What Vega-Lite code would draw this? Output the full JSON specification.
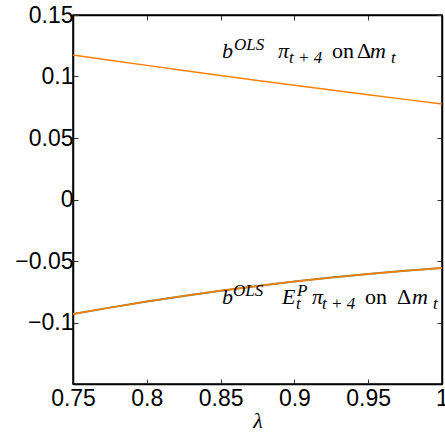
{
  "$schema": "https://vega.github.io/schema/vega-lite/v6.json",
  "width": 369,
  "height": 369,
  "autosize": "none",
  "padding": {"left": 73, "top": 15, "right": 3, "bottom": 50},
  "background": "white",
  "config": {
    "view": {"stroke": "black", "strokeWidth": 1.5},
    "axis": {
      "grid": false,
      "domainColor": "black",
      "domainWidth": 1.5,
      "tickColor": "#333",
      "tickWidth": 1,
      "tickSize": -5,
      "labelFlush": false,
      "labelOverlap": false,
      "labelColor": "black",
      "labelFont": "Liberation Sans",
      "labelFontSize": 23,
      "titleColor": "black"
    }
  },
  "datasets": {
    "curves": [
      {"lambda": 0.75, "upper": 0.1175, "lower": -0.0931},
      {"lambda": 0.775, "upper": 0.1132, "lower": -0.0879},
      {"lambda": 0.8, "upper": 0.109, "lower": -0.083},
      {"lambda": 0.825, "upper": 0.1049, "lower": -0.0784},
      {"lambda": 0.85, "upper": 0.1008, "lower": -0.0742},
      {"lambda": 0.875, "upper": 0.0968, "lower": -0.0703},
      {"lambda": 0.9, "upper": 0.0929, "lower": -0.0667},
      {"lambda": 0.925, "upper": 0.089, "lower": -0.0635},
      {"lambda": 0.95, "upper": 0.0852, "lower": -0.0606},
      {"lambda": 0.975, "upper": 0.0814, "lower": -0.058},
      {"lambda": 1.0, "upper": 0.0776, "lower": -0.0557}
    ],
    "mainItalic": [
      {"x": 0.85095, "y": 0.11504, "t": "b"},
      {"x": 0.88889, "y": 0.11504, "t": "π"},
      {"x": 0.95122, "y": 0.11504, "t": "m"},
      {"x": 0.85095, "y": -0.08496, "t": "b"},
      {"x": 0.8916, "y": -0.08496, "t": "E"},
      {"x": 0.91192, "y": -0.08496, "t": "π"},
      {"x": 0.97967, "y": -0.08496, "t": "m"}
    ],
    "mainRoman": [
      {"x": 0.92547, "y": 0.11504, "t": "on"},
      {"x": 0.94241, "y": 0.11504, "t": "Δ"},
      {"x": 0.94783, "y": -0.08496, "t": "on"},
      {"x": 0.96951, "y": -0.08496, "t": "Δ"}
    ],
    "small": [
      {"x": 0.85908, "y": 0.12154, "t": "OLS"},
      {"x": 0.89634, "y": 0.11098, "t": "t + 4"},
      {"x": 0.96545, "y": 0.11098, "t": "t"},
      {"x": 0.8584, "y": -0.07846, "t": "OLS"},
      {"x": 0.90176, "y": -0.07846, "t": "P"},
      {"x": 0.90108, "y": -0.08902, "t": "t"},
      {"x": 0.9187, "y": -0.08902, "t": "t + 4"},
      {"x": 0.9939, "y": -0.08902, "t": "t"}
    ]
  },
  "resolve": {"axis": {"x": "independent", "y": "independent"}},
  "layer": [
    {
      "data": {"name": "curves"},
      "mark": {"type": "line", "color": "#8a7a3a", "strokeWidth": 2},
      "encoding": {
        "x": {
          "field": "lambda", "type": "quantitative",
          "scale": {"domain": [0.75, 1], "nice": false, "zero": false},
          "axis": {
            "values": [0.75, 0.8, 0.85, 0.9, 0.95, 1],
            "format": ".2~f",
            "labelPadding": 8,
            "title": "λ",
            "titleFont": "Liberation Serif",
            "titleFontStyle": "italic",
            "titleFontWeight": "normal",
            "titleFontSize": 22,
            "titlePadding": 0
          }
        },
        "y": {
          "field": "lower", "type": "quantitative",
          "scale": {"domain": [-0.15, 0.15], "nice": false, "zero": false},
          "axis": {
            "values": [-0.1, -0.05, 0, 0.05, 0.1, 0.15],
            "format": ".2~f",
            "labelPadding": 5,
            "title": null
          }
        }
      }
    },
    {
      "data": {"name": "curves"},
      "mark": {"type": "line", "color": "#ff8000", "strokeWidth": 1.4},
      "encoding": {
        "x": {
          "field": "lambda", "type": "quantitative",
          "axis": {"orient": "top", "values": [0.75, 0.8, 0.85, 0.9, 0.95, 1], "labels": false, "title": null}
        },
        "y": {
          "field": "lower", "type": "quantitative",
          "axis": {"orient": "right", "values": [-0.1, -0.05, 0, 0.05, 0.1, 0.15], "labels": false, "title": null}
        }
      }
    },
    {
      "data": {"name": "curves"},
      "mark": {"type": "line", "color": "#ff8000", "strokeWidth": 1.4},
      "encoding": {
        "x": {"field": "lambda", "type": "quantitative", "axis": null},
        "y": {"field": "upper", "type": "quantitative", "axis": null}
      }
    },
    {
      "data": {"name": "mainItalic"},
      "mark": {"type": "text", "align": "left", "baseline": "alphabetic", "font": "Liberation Serif", "fontStyle": "italic", "fontSize": 22, "color": "black"},
      "encoding": {
        "x": {"field": "x", "type": "quantitative", "axis": null},
        "y": {"field": "y", "type": "quantitative", "axis": null},
        "text": {"field": "t"}
      }
    },
    {
      "data": {"name": "mainRoman"},
      "mark": {"type": "text", "align": "left", "baseline": "alphabetic", "font": "Liberation Serif", "fontSize": 22, "color": "black"},
      "encoding": {
        "x": {"field": "x", "type": "quantitative", "axis": null},
        "y": {"field": "y", "type": "quantitative", "axis": null},
        "text": {"field": "t"}
      }
    },
    {
      "data": {"name": "small"},
      "mark": {"type": "text", "align": "left", "baseline": "alphabetic", "font": "Liberation Serif", "fontStyle": "italic", "fontSize": 17, "color": "black"},
      "encoding": {
        "x": {"field": "x", "type": "quantitative", "axis": null},
        "y": {"field": "y", "type": "quantitative", "axis": null},
        "text": {"field": "t"}
      }
    }
  ]
}
